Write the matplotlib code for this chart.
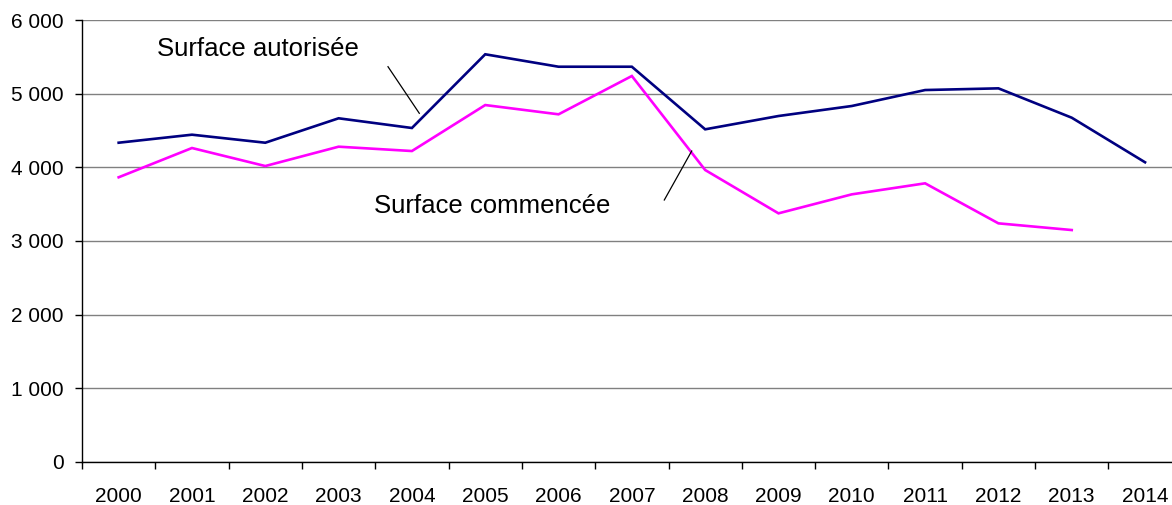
import matplotlib
matplotlib.use("Agg")
import matplotlib.pyplot as plt
import numpy as np
from matplotlib.ticker import FixedLocator, FuncFormatter
from matplotlib.lines import Line2D

plt.rcParams['font.family'] = ['Liberation Sans', 'DejaVu Sans']

years = ['2000', '2001', '2002', '2003', '2004', '2005', '2006', '2007',
         '2008', '2009', '2010', '2011', '2012', '2013', '2014']
surface_autorisee = [4336, 4445, 4336, 4668, 4536, 5538, 5369, 5369,
                     4518, 4699, 4835, 5052, 5075, 4676, 4070]
surface_commencee = [3866, 4264, 4019, 4282, 4223, 4848, 4722, 5243,
                     3965, 3376, 3634, 3784, 3240, 3149]

W, H = 1172, 505
fig = plt.figure(figsize=(W / 100, H / 100), dpi=100)
x0, x1, ytop, ybot = 82, 1181.7, 20.3, 461.7
ax = fig.add_axes([x0 / W, (H - ybot) / H, (x1 - x0) / W, (ybot - ytop) / H])


def fx(px):
    return px / W


def fy(py):
    return (H - py) / H


xa = np.arange(len(surface_autorisee))
xc = np.arange(len(surface_commencee))
ax.plot(xa, surface_autorisee, color='#000080', lw=1.9, solid_joinstyle='miter', zorder=3)
ax.plot(xc, surface_commencee, color='#FF00FF', lw=1.9, solid_joinstyle='miter', zorder=3)

ax.set_xlim(-0.5, len(years) - 0.5)
ax.set_ylim(0, 6000)

ax.yaxis.set_major_locator(FixedLocator(np.arange(0, 6001, 1000)))
ax.yaxis.set_major_formatter(FuncFormatter(lambda v, p: f"{int(v):,}".replace(',', ' ')))
ax.grid(axis='y', color='#808080', lw=1.0, zorder=0)

ax.set_xticks(np.arange(len(years)))
ax.set_xticklabels(years)
ax.set_xticks(np.arange(-0.5, len(years), 1.0), minor=True)
ax.tick_params(axis='x', which='major', length=0, pad=18, labelsize=15)
ax.tick_params(axis='x', which='minor', length=5, width=1, direction='out')
ax.tick_params(axis='y', length=5, width=1, direction='out', pad=8, labelsize=15)

for s in ['top', 'right']:
    ax.spines[s].set_visible(False)
for s in ['left', 'bottom']:
    ax.spines[s].set_color('black')
    ax.spines[s].set_linewidth(1.0)

# series labels with leader lines
fig.text(fx(258), fy(49), 'Surface autorisée', fontsize=18.5, ha='center', va='center')
fig.text(fx(492), fy(206), 'Surface commencée', fontsize=18.5, ha='center', va='center')
fig.add_artist(Line2D([fx(388), fx(419.3)], [fy(66.7), fy(113.3)],
                      color='black', lw=0.9, transform=fig.transFigure))
fig.add_artist(Line2D([fx(664.3), fx(691.7)], [fy(200), fy(151)],
                      color='black', lw=0.9, transform=fig.transFigure))

fig.savefig('out.png', dpi=100)
